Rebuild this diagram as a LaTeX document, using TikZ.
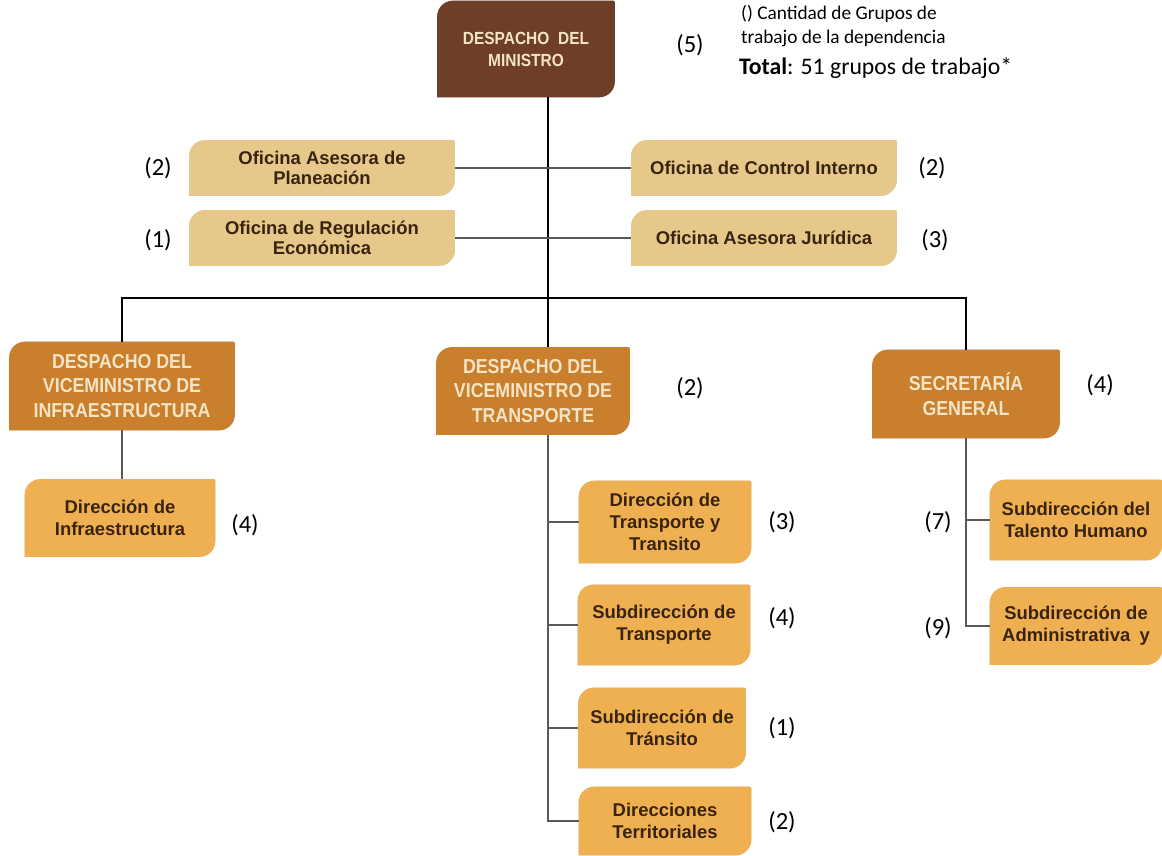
\documentclass[tikz,border=0pt]{standalone}
\usepackage{fontspec}
\setmainfont{Liberation Sans}
\newfontfamily\calibri{Carlito}
\newfontfamily\narrow[FakeStretch=0.88]{Liberation Sans}
\usetikzlibrary{backgrounds}
\definecolor{ministro}{HTML}{6E3E28}
\definecolor{oficina}{HTML}{E6C98A}
\definecolor{despacho}{HTML}{C97F2C}
\definecolor{direccion}{HTML}{EFB052}
\definecolor{crema}{HTML}{F4E4C6}
\definecolor{tinta}{HTML}{3A2410}
% forma de hoja: esquinas redondeadas arriba-izquierda y abajo-derecha
\newcommand\hoja[1]{([yshift=-9pt]#1.north west) .. controls ([yshift=-4pt]#1.north west) and ([xshift=4pt]#1.north west) .. ([xshift=9pt]#1.north west)
  -- ([xshift=-2pt]#1.north east) .. controls (#1.north east) .. ([yshift=-2pt]#1.north east)
  -- ([yshift=9pt]#1.south east) .. controls ([yshift=4pt]#1.south east) and ([xshift=-4pt]#1.south east) .. ([xshift=-9pt]#1.south east)
  -- (#1.south west) -- cycle}
\begin{document}
\begin{tikzpicture}[
  x=0.02cm, y=-0.02cm,
  box/.style={inner sep=0pt, align=center, font=\bfseries\fontsize{10.5}{12.5}\selectfont, text=tinta},
  minbox/.style={box, minimum width=3.54cm, minimum height=1.92cm,
                 font=\narrow\bfseries\fontsize{10}{12.5}\selectfont, text=crema},
  ofibox/.style={box, minimum width=5.3cm, minimum height=1.1cm, font=\bfseries\fontsize{10.5}{11.5}\selectfont},
  vicebox/.style={box, font=\narrow\bfseries\fontsize{11.5}{14}\selectfont, text=crema},
  dirbox/.style={box, minimum width=3.44cm, minimum height=1.6cm},
  num/.style={font=\calibri\fontsize{14}{16}\selectfont},
  nota/.style={font=\calibri\fontsize{11}{14}\selectfont, align=left, anchor=west},
  linea/.style={gray!70!black, line width=0.9pt},
  tronco/.style={black, line width=1.1pt},
]
\useasboundingbox (0,0) rectangle (1162,855);

% Despacho del Ministro
\node[minbox] (min) at (526,49) {DESPACHO\enspace DEL\\MINISTRO};
\node[num] (nmin) at (690,45) {(5)};
\node[nota] (nota) at (735,26) {() Cantidad de Grupos de\\trabajo de la dependencia};
\node[nota, font=\calibri\fontsize{13.5}{16}\selectfont] (total) at (733,68) {\textbf{Total}: 51 grupos de trabajo*};

% Oficinas asesoras
\node[ofibox] (plan) at (322,168) {Oficina Asesora de\\Planeación};
\node[ofibox] (regu) at (322,238) {Oficina de Regulación\\Económica};
\node[ofibox] (ctrl) at (764,168) {Oficina de Control Interno};
\node[ofibox] (juri) at (764,238) {Oficina Asesora Jurídica};
\node[num] at (158,168) {(2)};
\node[num] at (158,240) {(1)};
\node[num] at (932,168) {(2)};
\node[num] at (935,240) {(3)};

% Despachos de viceministros y secretaría
\node[vicebox, minimum width=4.5cm, minimum height=1.76cm] (vinf) at (122,386)
  {DESPACHO DEL\\VICEMINISTRO DE\\INFRAESTRUCTURA};
\node[vicebox, minimum width=3.86cm, minimum height=1.74cm] (vtra) at (533,391)
  {DESPACHO DEL\\VICEMINISTRO DE\\TRANSPORTE};
\node[vicebox, minimum width=3.74cm, minimum height=1.76cm] (sec) at (966,394)
  {SECRETARÍA\\GENERAL};
\node[num] at (690,388) {(2)};
\node[num] at (1100,385) {(4)};

% Direcciones
\node[dirbox, minimum width=3.8cm, minimum height=1.54cm] (dinf) at (120,518) {Dirección de\\Infraestructura};
\node[dirbox, minimum height=1.64cm] (dtt) at (665,522) {Dirección de\\Transporte y\\Transito};
\node[dirbox] (stra) at (664,625) {Subdirección de\\Transporte};
\node[dirbox, minimum width=3.34cm] (strn) at (662,728) {Subdirección de\\Tránsito};
\node[dirbox, minimum height=1.36cm] (dter) at (665,821) {Direcciones\\Territoriales};
\node[dirbox] (sth) at (1076,520) {Subdirección del\\Talento Humano};
\node[dirbox, minimum height=1.54cm] (sadm) at (1076,626) {Subdirección de\\Administrativa\enspace y};
\node[num] at (245,525) {(4)};
\node[num] at (782,522) {(3)};
\node[num] at (782,618) {(4)};
\node[num] at (782,728) {(1)};
\node[num] at (782,822) {(2)};
\node[num] at (938,522) {(7)};
\node[num] at (938,628) {(9)};

% Formas de las cajas, con sombra
\begin{scope}[on background layer]
  \foreach \n/\c in {min/ministro, plan/oficina, regu/oficina, ctrl/oficina, juri/oficina,
      vinf/despacho, vtra/despacho, sec/despacho, dinf/direccion, dtt/direccion,
      stra/direccion, strn/direccion, dter/direccion, sth/direccion, sadm/direccion}{
    \fill[black!30, opacity=0.6, xshift=1pt, yshift=-2.5pt] \hoja{\n};
    \fill[\c] \hoja{\n};
  }
\end{scope}

% Conectores
\coordinate (spine) at (548,298);
\draw[tronco] (min.south -| spine) -- (spine);
\draw[linea] (plan.east) -- (ctrl.west);
\draw[linea] (regu.east) -- (juri.west);
\draw[tronco, line width=0.8pt] (vinf.north) |- (spine) -| (sec.north);
\draw[tronco, line width=0.8pt] (spine) -- (vtra.north -| spine);
\draw[linea] (vinf.south) -- (vinf.south |- dinf.north);
\draw[linea] (vtra.south -| spine) |- (dter.west);
\foreach \n in {dtt, stra, strn}
  \draw[linea] (\n.west -| spine) -- (\n.west);
\draw[linea] (sec.south) |- (sadm.west);
\draw[linea] (sth.west -| sec.south) -- (sth.west);
\end{tikzpicture}
\end{document}
